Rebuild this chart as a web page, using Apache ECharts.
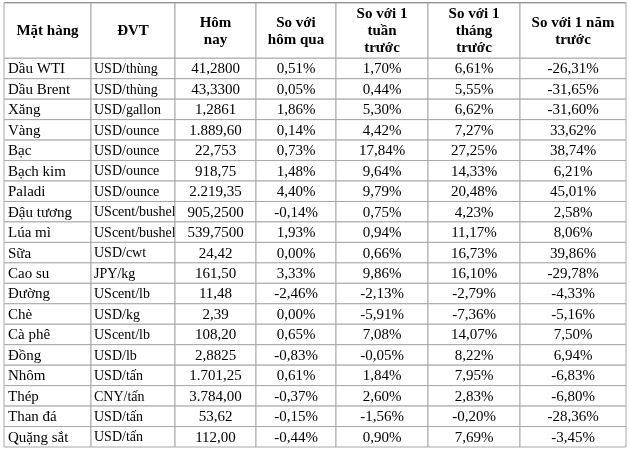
<!DOCTYPE html>
<html><head><meta charset="utf-8">
<script src="https://cdn.jsdelivr.net/npm/echarts@6/dist/echarts.min.js"></script>
<style>html,body{margin:0;background:#fff}#c{width:630px;height:451px}</style>
</head><body><div id="c"></div>
<script>
// ---- dữ liệu ----
var headers = ["Mặt hàng", "ĐVT", "Hôm\nnay", "So với\nhôm qua", "So với 1\ntuần\ntrước", "So với 1\ntháng\ntrước", "So với 1 năm\ntrước"];
var items = ["Dầu WTI","Dầu Brent","Xăng","Vàng","Bạc","Bạch kim","Paladi","Đậu tương","Lúa mì","Sữa","Cao su","Đường","Chè","Cà phê","Đồng","Nhôm","Thép","Than đá","Quặng sắt"];
var units = ["USD/thùng","USD/thùng","USD/gallon","USD/ounce","USD/ounce","USD/ounce","USD/ounce","UScent/bushel","UScent/bushel","USD/cwt","JPY/kg","UScent/lb","USD/kg","UScent/lb","USD/lb","USD/tấn","CNY/tấn","USD/tấn","USD/tấn"];
var today = ["41,2800","43,3300","1,2861","1.889,60","22,753","918,75","2.219,35","905,2500","539,7500","24,42","161,50","11,48","2,39","108,20","2,8825","1.701,25","3.784,00","53,62","112,00"];
var vsDay = ["0,51%","0,05%","1,86%","0,14%","0,73%","1,48%","4,40%","-0,14%","1,93%","0,00%","3,33%","-2,46%","0,00%","0,65%","-0,83%","0,61%","-0,37%","-0,15%","-0,44%"];
var vsWeek = ["1,70%","0,44%","5,30%","4,42%","17,84%","9,64%","9,79%","0,75%","0,94%","0,66%","9,86%","-2,13%","-5,91%","7,08%","-0,05%","1,84%","2,60%","-1,56%","0,90%"];
var vsMonth = ["6,61%","5,55%","6,62%","7,27%","27,25%","14,33%","20,48%","4,23%","11,17%","16,73%","16,10%","-2,79%","-7,36%","14,07%","8,22%","7,95%","2,83%","-0,20%","7,69%"];
var vsYear = ["-26,31%","-31,65%","-31,60%","33,62%","38,74%","6,21%","45,01%","2,58%","8,06%","39,86%","-29,78%","-4,33%","-5,16%","7,50%","6,94%","-6,83%","-6,80%","-28,36%","-3,45%"];

// ---- bố cục bảng ----
var colEdges = [0, 87, 171, 252, 332, 424, 516, 622];
var headerRows = 2.7;
var columns = [items, units, today, vsDay, vsWeek, vsMonth, vsYear];

var cells = [];
headers.forEach(function (h, c) { cells.push([c, 0, h, 1]); });
columns.forEach(function (col, c) {
  col.forEach(function (v, r) { cells.push([c, r + 1, v, 0]); });
});

function rowTop(r) { return r === 0 ? 0 : headerRows + r - 1; }
function rowBot(r) { return r === 0 ? headerRows : headerRows + r; }

var chart = echarts.init(document.getElementById("c"));
chart.setOption({
  animation: false,
  grid: { left: 4, right: 4, top: 3, bottom: 4 },
  xAxis: { type: "value", min: 0, max: 622, show: false },
  yAxis: { type: "value", min: 0, max: headerRows + items.length, inverse: true, show: false },
  series: [{
    type: "custom",
    data: cells,
    renderItem: function (params, api) {
      var c = api.value(0), r = api.value(1), hdr = api.value(3);
      var p0 = api.coord([colEdges[c], rowTop(r)]);
      var p1 = api.coord([colEdges[c + 1], rowBot(r)]);
      var left = !hdr && c < 2;
      var size = hdr ? "bold 15px" : (c === 1 ? "14px" : "15px");
      return {
        type: "group",
        children: [
          { type: "rect", shape: { x: p0[0], y: p0[1], width: p1[0] - p0[0], height: p1[1] - p0[1] },
            style: { fill: "#fff", stroke: "#a8a8a8", lineWidth: 1 } },
          { type: "text",
            style: {
              text: cells[params.dataIndex][2],
              x: left ? p0[0] + (c === 1 ? 3 : 4) : (p0[0] + p1[0]) / 2,
              y: (p0[1] + p1[1]) / 2 + 1,
              align: left ? "left" : "center", verticalAlign: "middle",
              font: size + " 'Liberation Serif', serif",
              lineHeight: hdr ? 17 : 16, fill: "#000"
            } }
        ]
      };
    }
  }],
  graphic: [{ type: "line", shape: { x1: 4, y1: 3, x2: 626, y2: 3 }, style: { stroke: "#000", lineWidth: 1 } }]
});
</script></body></html>
